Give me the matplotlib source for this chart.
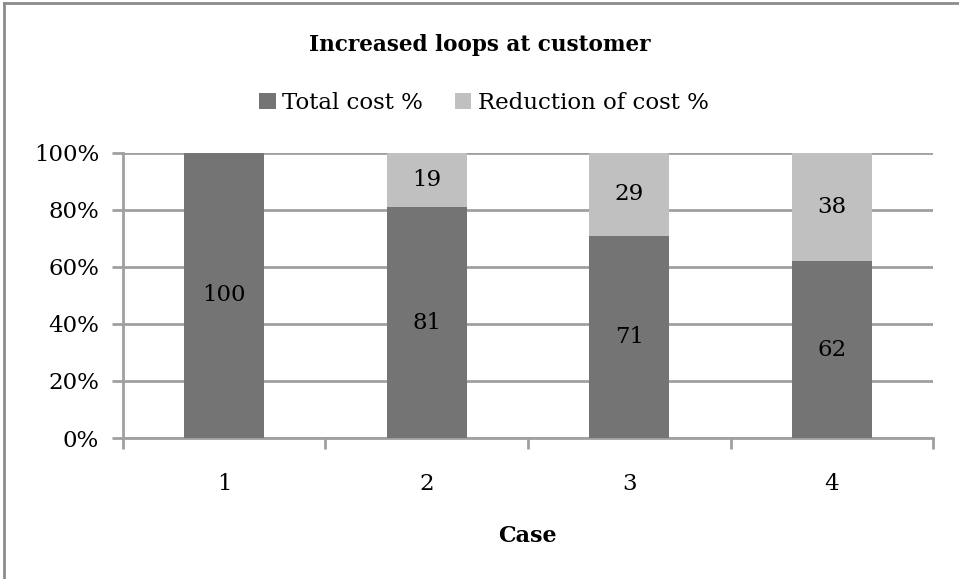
import matplotlib.pyplot as plt
from matplotlib.ticker import PercentFormatter

cases = ['1', '2', '3', '4']
total_cost = [100, 81, 71, 62]
reduction = [0, 19, 29, 38]

dark = '#747474'
light = '#c0c0c0'
grid_col = '#a0a0a0'

plt.rcParams['font.family'] = 'DejaVu Serif'

fig = plt.figure(figsize=(9.59, 5.79), dpi=100)
ax = fig.add_axes([0.128, 0.2435, 0.845, 0.4925])

x = list(range(1, len(cases) + 1))
ax.bar(x, total_cost, width=0.395, color=dark, label='Total cost %', zorder=3)
ax.bar(x, reduction, width=0.395, bottom=total_cost, color=light,
       label='Reduction of cost %', zorder=3)

for xi, t, r in zip(x, total_cost, reduction):
    ax.text(xi, t / 2, str(t), ha='center', va='center', fontsize=16.5, zorder=4)
    if r > 0:
        ax.text(xi, t + r / 2, str(r), ha='center', va='center', fontsize=16.5, zorder=4)

ax.set_xlim(0.5, 4.5)
ax.set_ylim(0, 100)
ax.set_yticks([0, 20, 40, 60, 80, 100])
ax.yaxis.set_major_formatter(PercentFormatter(decimals=0))
ax.grid(axis='y', color=grid_col, linewidth=2, zorder=0)

ax.set_xticks(x)
ax.set_xticklabels(cases)
ax.set_xticks([0.5, 1.5, 2.5, 3.5, 4.5], minor=True)
ax.tick_params(axis='x', which='major', length=0, pad=25, labelsize=16.5)
ax.tick_params(axis='x', which='minor', length=8, width=2, color=grid_col, direction='out')
ax.tick_params(axis='y', length=8, width=2, color=grid_col, labelsize=16.5, pad=9)

for s in ['top', 'right']:
    ax.spines[s].set_visible(False)
for s in ['left', 'bottom']:
    ax.spines[s].set_color(grid_col)
    ax.spines[s].set_linewidth(2)

ax.set_xlabel('Case', fontsize=16, fontweight='bold', labelpad=22)
fig.text(0.5, 0.922, 'Increased loops at customer', ha='center', va='center',
         fontsize=15.5, fontweight='bold')
fig.legend(loc='center', bbox_to_anchor=(0.505, 0.822), ncol=2, frameon=False,
           fontsize=16.5, handlelength=0.7, handleheight=0.7, handletextpad=0.3,
           columnspacing=1.4)

# chart-area border (left and top edges visible)
fig.add_artist(plt.Line2D([0.004, 0.004], [0, 0.995], transform=fig.transFigure,
                          color='#8c8c8c', linewidth=2))
fig.add_artist(plt.Line2D([0.004, 1.0], [0.995, 0.995], transform=fig.transFigure,
                          color='#8c8c8c', linewidth=2))

fig.savefig('out.png', dpi=100)
